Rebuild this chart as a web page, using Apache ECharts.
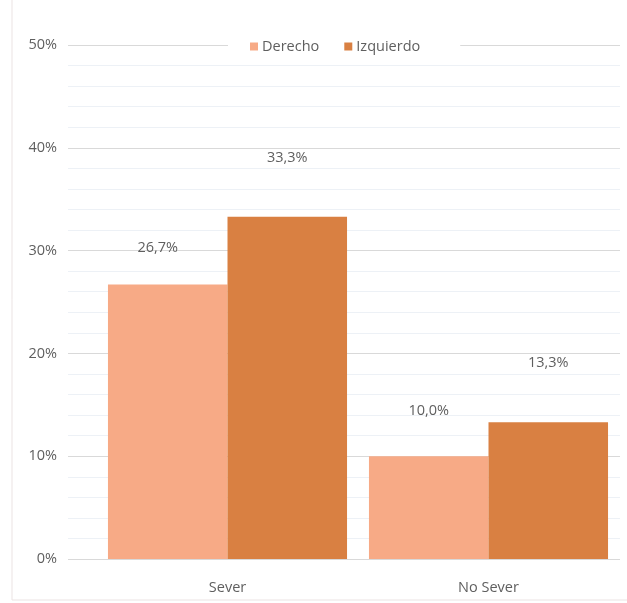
<!DOCTYPE html>
<html>
<head>
<meta charset="utf-8">
<script src="https://cdn.jsdelivr.net/npm/echarts@6/dist/echarts.min.js"></script>
<style>html,body{margin:0;padding:0;background:#fff;}#c{width:627px;height:603px;}</style>
</head>
<body>
<div id="c"></div>
<script>
const categories = ['Sever', 'No Sever'];
const seriesNames = ['Derecho', 'Izquierdo'];
const derecho = [26.7, 10.0];
const izquierdo = [33.3, 13.3];
const yTicks = [0, 10, 20, 30, 40, 50];

const FONT = "'Open Sans', 'Noto Sans', sans-serif";
const TXT = '#5f5f5f';
const FS = 14.5;
const colors = ['#F7AA86', '#D98042'];
// label offsets (styling only)
const labelOffsets = [
  [[-10, -24], [0, -46]],
  [[0, -33], [0, -47]]
];

const chart = echarts.init(document.getElementById('c'), null, {renderer: 'canvas'});
const fmt = v => v.toFixed(1).replace('.', ',') + '%';

function mkSeries(name, data, idx) {
  return {
    name: name,
    type: 'bar',
    xAxisIndex: 1,
    yAxisIndex: 1,
    barGap: '0%',
    barCategoryGap: '8.4%',
    itemStyle: {color: colors[idx]},
    data: data.map((v, i) => ({
      value: v,
      label: {
        show: true,
        position: 'top',
        offset: labelOffsets[i][idx],
        formatter: () => fmt(v),
        color: TXT,
        fontFamily: FONT,
        fontSize: FS
      }
    }))
  };
}

chart.setOption({
  backgroundColor: '#fff',
  animation: false,
  graphic: [{
    type: 'rect',
    shape: {x: 12, y: -2, width: 640, height: 602},
    style: {fill: 'none', stroke: '#ebe3e3', lineWidth: 1},
    z: -10
  }],
  legend: {
    data: seriesNames,
    top: 33,
    left: 228,
    itemWidth: 8,
    itemHeight: 8,
    itemGap: 25,
    backgroundColor: '#fff',
    padding: [6, 40, 8, 22],
    icon: 'rect',
    textStyle: {color: TXT, fontFamily: FONT, fontSize: FS, padding: [0, 0, 0, -1]},
    z: 10
  },
  grid: [
    {left: 68, right: 7, top: 45, bottom: 44},
    {left: 97, right: 8, top: 45, bottom: 44}
  ],
  xAxis: [
    {type: 'value', gridIndex: 0, show: false, min: 0, max: 1},
    {
      type: 'category', gridIndex: 1, data: categories,
      axisLine: {show: false}, axisTick: {show: false},
      axisLabel: {color: TXT, fontFamily: FONT, fontSize: FS, margin: 21}
    }
  ],
  yAxis: [
    {
      type: 'value', gridIndex: 0, min: yTicks[0], max: yTicks[yTicks.length - 1], interval: 10,
      axisLine: {show: false}, axisTick: {show: false},
      axisLabel: {color: TXT, fontFamily: FONT, fontSize: FS, margin: 11, formatter: '{value}%'},
      splitLine: {show: true, lineStyle: {color: '#d9d9d9', width: 1}},
      minorTick: {show: false, splitNumber: 5},
      minorSplitLine: {show: true, lineStyle: {color: '#edf1f6', width: 1}}
    },
    {
      type: 'value', gridIndex: 1, min: 0, max: 50, interval: 10, show: false,
      splitLine: {show: false}
    }
  ],
  series: [
    mkSeries(seriesNames[0], derecho, 0),
    mkSeries(seriesNames[1], izquierdo, 1)
  ]
});
</script>
</body>
</html>
